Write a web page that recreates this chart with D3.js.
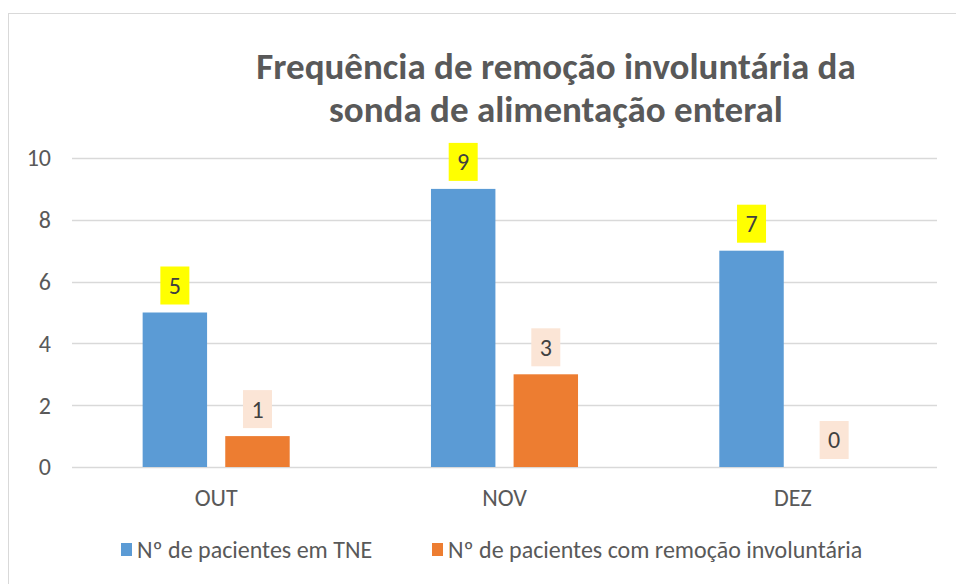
<!DOCTYPE html>
<html>
<head>
<meta charset="utf-8">
<script src="https://cdn.jsdelivr.net/npm/d3@7"></script>
<style>
  body { margin: 0; background: #fff; }
  svg { display: block; font-family: Carlito, Calibri, "Open Sans", sans-serif; }
</style>
</head>
<body>
<div id="chart"></div>
<script>
// Chart data
const months = ["OUT", "NOV", "DEZ"];
const seriesNames = ["Nº de pacientes em TNE", "Nº de pacientes com remoção involuntária"];
const pacientesTNE = [5, 9, 7];
const remocaoInvoluntaria = [1, 3, 0];
const yTicks = [0, 2, 4, 6, 8, 10];
const titleLines = ["Frequência de remoção involuntária da", "sonda de alimentação enteral"];

const width = 956, height = 584;
const colors = ["#5B9BD5", "#ED7D31"];
const labelBg = ["#FFFF00", "#FBE5D6"];

const svg = d3.select("#chart").append("svg")
    .attr("width", width)
    .attr("height", height);

// chart frame
svg.append("rect")
    .attr("x", 8.5).attr("y", 13.5)
    .attr("width", 960).attr("height", 600)
    .attr("fill", "none")
    .attr("stroke", "#D9D9D9");

// title
svg.append("g").selectAll("text")
    .data(titleLines)
    .join("text")
    .attr("x", 556)
    .attr("y", (d, i) => 79 + i * 43)
    .attr("text-anchor", "middle")
    .attr("font-weight", "bold")
    .attr("font-size", 37)
    .attr("fill", "#595959")
    .text(d => d);

const margin = { left: 72, right: 19, top: 158, bottom: 117 };
const x0 = d3.scaleBand()
    .domain(months)
    .range([margin.left, width - margin.right])
    .paddingInner(0.49)
    .paddingOuter(0.245);
const x1 = d3.scaleBand()
    .domain([0, 1])
    .range([0, x0.bandwidth()])
    .paddingInner(0.22);
const y = d3.scaleLinear()
    .domain([0, 10])
    .range([height - margin.bottom, margin.top]);

// gridlines
svg.append("g").selectAll("line")
    .data(yTicks)
    .join("line")
    .attr("x1", margin.left)
    .attr("x2", width - margin.right)
    .attr("y1", d => Math.round(y(d)) + 0.5)
    .attr("y2", d => Math.round(y(d)) + 0.5)
    .attr("stroke", "#D9D9D9")
    .attr("stroke-width", 1.5);

// y tick labels
svg.append("g").selectAll("text")
    .data(yTicks)
    .join("text")
    .attr("x", 51)
    .attr("y", d => y(d))
    .attr("dy", "0.35em")
    .attr("text-anchor", "end")
    .attr("font-size", 24)
    .attr("fill", "#595959")
    .text(d => d);

// x labels
svg.append("g").selectAll("text")
    .data(months)
    .join("text")
    .attr("x", d => x0(d) + x0.bandwidth() / 2)
    .attr("y", 506)
    .attr("text-anchor", "middle")
    .attr("font-size", 24)
    .attr("fill", "#595959")
    .text(d => d);

const rows = months.map((m, i) => ({ month: m, values: [pacientesTNE[i], remocaoInvoluntaria[i]] }));

const groups = svg.append("g").selectAll("g")
    .data(rows)
    .join("g")
    .attr("transform", d => `translate(${x0(d.month)},0)`);

const cells = groups.selectAll("g")
    .data(d => d.values.map((v, s) => ({ v, s })))
    .join("g");

cells.append("rect")
    .attr("x", d => x1(d.s))
    .attr("y", d => y(d.v))
    .attr("width", x1.bandwidth())
    .attr("height", d => y(0) - y(d.v))
    .attr("fill", d => colors[d.s]);

// data labels with background boxes
cells.append("rect")
    .attr("x", d => x1(d.s) + x1.bandwidth() / 2 - 14.5)
    .attr("y", d => y(d.v) - 8 - 38)
    .attr("width", 29)
    .attr("height", 38)
    .attr("fill", d => labelBg[d.s]);

cells.append("text")
    .attr("x", d => x1(d.s) + x1.bandwidth() / 2)
    .attr("y", d => y(d.v) - 8 - 19)
    .attr("dy", "0.35em")
    .attr("text-anchor", "middle")
    .attr("font-size", 24)
    .attr("fill", "#404040")
    .text(d => d.v);

// legend
const legendX = [121, 432];
const legend = svg.append("g").selectAll("g")
    .data(seriesNames)
    .join("g")
    .attr("transform", (d, i) => `translate(${legendX[i]},543)`);

legend.append("rect")
    .attr("width", 11).attr("height", 13)
    .attr("fill", (d, i) => colors[i]);

legend.append("text")
    .attr("x", 16)
    .attr("y", 7)
    .attr("dy", "0.35em")
    .attr("font-size", 24)
    .attr("fill", "#595959")
    .text(d => d);
</script>
</body>
</html>
